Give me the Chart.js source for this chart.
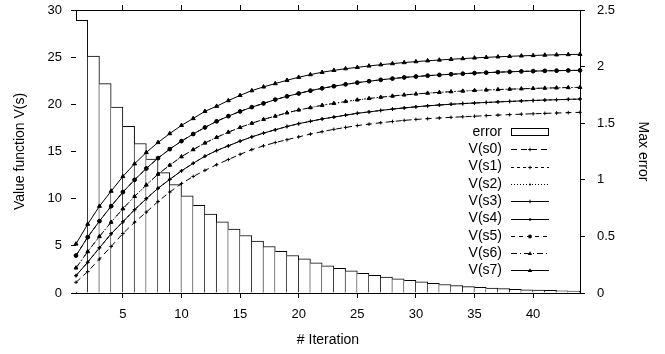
<!DOCTYPE html>
<html lang="en">
<head>
<meta charset="UTF-8">
<title>Value iteration</title>
<script src="https://cdn.jsdelivr.net/npm/chart.js"></script>
<style>
    html, body { margin: 0; padding: 0; background: #fff; }
    .caixa { position: relative; width: 665px; height: 354px; }
</style>
</head>
<body>
<div class="caixa"><canvas id="grafico"></canvas></div>
<script>
    // iterations 1..44 (lines), bars cover [k, k+1] for k = 1..43
    const iteracoes = [1, 2, 3, 4, 5, 6, 7, 8, 9, 10, 11, 12, 13, 14, 15, 16, 17, 18, 19, 20, 21, 22,
        23, 24, 25, 26, 27, 28, 29, 30, 31, 32, 33, 34, 35, 36, 37, 38, 39, 40, 41, 42, 43, 44];

    const erroMax = [2.408, 2.092, 1.850, 1.642, 1.472, 1.321, 1.183, 1.064, 0.958, 0.858,
        0.774, 0.697, 0.629, 0.564, 0.508, 0.458, 0.411, 0.369, 0.331, 0.302,
        0.266, 0.239, 0.218, 0.195, 0.174, 0.156, 0.140, 0.125, 0.112, 0.098,
        0.086, 0.075, 0.065, 0.057, 0.050, 0.043, 0.038, 0.033, 0.029, 0.026,
        0.023, 0.020, 0.018];

    // several states lie on top of each other in the plot (s1/s3, s2/s6, s4/s5)
    const vS0 = [1.13, 2.27, 3.6, 4.93, 6.3, 7.5, 8.57, 9.7, 10.7, 11.6,
        12.35, 13.0, 13.6, 14.15, 14.7, 15.2, 15.6, 15.95, 16.25, 16.55,
        16.85, 17.1, 17.35, 17.55, 17.75, 17.9, 18.05, 18.18, 18.3, 18.4,
        18.48, 18.55, 18.62, 18.68, 18.74, 18.8, 18.86, 18.91, 18.96, 19.0,
        19.04, 19.08, 19.12, 19.15];
    const vS1 = [1.84, 3.26, 4.79, 6.28, 7.55, 8.83, 10.0, 11.1, 12.05, 12.95,
        13.75, 14.5, 15.1, 15.6, 16.1, 16.55, 16.95, 17.3, 17.65, 17.95,
        18.2, 18.45, 18.65, 18.85, 19.05, 19.2, 19.35, 19.5, 19.62, 19.74,
        19.84, 19.93, 20.01, 20.08, 20.14, 20.2, 20.26, 20.31, 20.36, 20.41,
        20.45, 20.49, 20.53, 20.56];
    const vS2 = [2.66, 4.39, 5.99, 7.51, 8.93, 10.24, 11.45, 12.6, 13.55, 14.45,
        15.2, 15.9, 16.5, 17.05, 17.55, 18.0, 18.4, 18.75, 19.1, 19.4,
        19.65, 19.9, 20.1, 20.3, 20.47, 20.62, 20.76, 20.88, 21.0, 21.1,
        21.19, 21.27, 21.34, 21.41, 21.47, 21.52, 21.57, 21.61, 21.65, 21.69,
        21.72, 21.75, 21.78, 21.8];
    const vS3 = [1.84, 3.26, 4.79, 6.28, 7.55, 8.83, 10.0, 11.1, 12.05, 12.95,
        13.75, 14.5, 15.1, 15.6, 16.1, 16.55, 16.95, 17.3, 17.65, 17.95,
        18.2, 18.45, 18.65, 18.85, 19.05, 19.2, 19.35, 19.5, 19.62, 19.74,
        19.84, 19.93, 20.01, 20.08, 20.14, 20.2, 20.26, 20.31, 20.36, 20.41,
        20.45, 20.49, 20.53, 20.56];
    const vS4 = [3.97, 5.92, 7.62, 9.2, 10.7, 12.0, 13.2, 14.3, 15.25, 16.1,
        16.85, 17.55, 18.2, 18.75, 19.25, 19.7, 20.1, 20.5, 20.85, 21.15,
        21.45, 21.7, 21.92, 22.12, 22.3, 22.45, 22.6, 22.73, 22.85, 22.95,
        23.04, 23.12, 23.19, 23.25, 23.31, 23.36, 23.41, 23.45, 23.49, 23.52,
        23.55, 23.57, 23.59, 23.6];
    const vS5 = [3.97, 5.92, 7.62, 9.2, 10.7, 12.0, 13.2, 14.3, 15.25, 16.1,
        16.85, 17.55, 18.2, 18.75, 19.25, 19.7, 20.1, 20.5, 20.85, 21.15,
        21.45, 21.7, 21.92, 22.12, 22.3, 22.45, 22.6, 22.73, 22.85, 22.95,
        23.04, 23.12, 23.19, 23.25, 23.31, 23.36, 23.41, 23.45, 23.49, 23.52,
        23.55, 23.57, 23.59, 23.6];
    const vS6 = [2.66, 4.39, 5.99, 7.51, 8.93, 10.24, 11.45, 12.6, 13.55, 14.45,
        15.2, 15.9, 16.5, 17.05, 17.55, 18.0, 18.4, 18.75, 19.1, 19.4,
        19.65, 19.9, 20.1, 20.3, 20.47, 20.62, 20.76, 20.88, 21.0, 21.1,
        21.19, 21.27, 21.34, 21.41, 21.47, 21.52, 21.57, 21.61, 21.65, 21.69,
        21.72, 21.75, 21.78, 21.8];
    const vS7 = [5.2, 7.3, 9.2, 10.8, 12.35, 13.7, 14.9, 15.96, 16.9, 17.77,
        18.5, 19.26, 19.8, 20.4, 20.95, 21.45, 21.85, 22.2, 22.55, 22.87,
        23.15, 23.4, 23.6, 23.78, 23.92, 24.07, 24.2, 24.32, 24.43, 24.53,
        24.62, 24.7, 24.78, 24.85, 24.92, 24.98, 25.04, 25.09, 25.14, 25.18,
        25.22, 25.25, 25.28, 25.3];

    const xTicks = [5, 10, 15, 20, 25, 30, 35, 40];
    const yTicks = [0, 5, 10, 15, 20, 25, 30];
    const y2Ticks = [0, 0.5, 1, 1.5, 2, 2.5];

    const fonte = '"Liberation Sans", Arial, Helvetica, sans-serif';
    Chart.defaults.font.family = fonte;
    Chart.defaults.color = '#000';

    function pontos(valores) {
        return iteracoes.map((it, i) => ({ x: it, y: valores[i] }));
    }

    // one line per state: [label, values, dash, marker, radius]
    const estilos = [
        ['V(s0)', vS0, [6, 4], 'cross', 1.8],
        ['V(s1)', vS1, [3, 3], 'cross', 1.8],
        ['V(s2)', vS2, [1, 2], 'circle', 1],
        ['V(s3)', vS3, [], 'cross', 1.8],
        ['V(s4)', vS4, [], 'circle', 1.3],
        ['V(s5)', vS5, [4, 4], 'circle', 1.9],
        ['V(s6)', vS6, [6, 3, 1, 3], 'triangle', 2.2],
        ['V(s7)', vS7, [], 'triangle', 2.3]
    ];

    const conjuntos = [{
        type: 'bar',
        label: 'error',
        data: iteracoes.slice(0, erroMax.length).map((it, i) => ({ x: it + 0.5, y: erroMax[i] })),
        yAxisID: 'y2',
        backgroundColor: '#fff',
        borderColor: '#000',
        borderWidth: { top: 1, right: 1, left: 0, bottom: 0 },
        borderSkipped: false,
        barPercentage: 1,
        categoryPercentage: 1,
        order: 1
    }];
    estilos.forEach(e => {
        conjuntos.push({
            type: 'line',
            label: e[0],
            data: pontos(e[1]),
            yAxisID: 'y',
            borderColor: '#000',
            backgroundColor: '#000',
            borderWidth: 1,
            borderDash: e[2],
            pointStyle: e[3],
            pointRadius: e[4],
            pointBorderWidth: 1,
            pointBackgroundColor: '#000',
            pointBorderColor: '#000',
            tension: 0,
            fill: false,
            clip: 4,
            order: 0
        });
    });

    function marcador(ctx, estilo, r, x, y) {
        ctx.save();
        ctx.setLineDash([]);
        ctx.beginPath();
        if (estilo === 'cross') {
            ctx.moveTo(x - r, y); ctx.lineTo(x + r, y);
            ctx.moveTo(x, y - r); ctx.lineTo(x, y + r);
            ctx.stroke();
        } else if (estilo === 'circle') {
            ctx.arc(x, y, r, 0, Math.PI * 2);
            ctx.fill();
        } else if (estilo === 'triangle') {
            ctx.moveTo(x, y - r);
            ctx.lineTo(x + r, y + r * 0.7);
            ctx.lineTo(x - r, y + r * 0.7);
            ctx.closePath();
            ctx.fill();
        }
        ctx.restore();
    }

    // legend drawn inside the plot, text on the left of the sample (gnuplot style)
    const legendaInterna = {
        id: 'legendaInterna',
        afterDraw(chart) {
            const ctx = chart.ctx;
            const area = chart.chartArea;
            const textoX = area.right - 78;
            const a0 = area.right - 69;
            const a1 = area.right - 31;
            let y = area.top + 122;
            ctx.save();
            ctx.font = '14px ' + fonte;
            ctx.textAlign = 'right';
            ctx.textBaseline = 'middle';
            ctx.fillStyle = '#000';
            ctx.strokeStyle = '#000';
            ctx.lineWidth = 1;
            chart.data.datasets.forEach(ds => {
                ctx.fillText(ds.label, textoX, y);
                if (ds.type === 'bar') {
                    ctx.fillStyle = '#fff';
                    ctx.fillRect(a0, y - 4, a1 - a0, 8);
                    ctx.strokeRect(a0 + 0.5, y - 3.5, a1 - a0 - 1, 7);
                    ctx.fillStyle = '#000';
                } else {
                    ctx.setLineDash(ds.borderDash);
                    ctx.beginPath();
                    ctx.moveTo(a0, Math.round(y) + 0.5);
                    ctx.lineTo(a1, Math.round(y) + 0.5);
                    ctx.stroke();
                    ctx.setLineDash([]);
                    marcador(ctx, ds.pointStyle, ds.pointRadius, (a0 + a1) / 2, Math.round(y) + 0.5);
                }
                y += 17.3;
            });
            ctx.restore();
        }
    };

    // fixed box sizes so the plot area sits where the reference has it
    function tamanho(prop, valor) {
        return s => {
            s[prop] = valor;
            s.paddingTop = 0;
            s.paddingBottom = 0;
            s.paddingLeft = 0;
            s.paddingRight = 0;
        };
    }

    const eixoComum = {
        offset: false,
        grid: { drawOnChartArea: false, color: '#000', tickLength: 5, offset: false },
        border: { display: true, color: '#000', width: 1 }
    };

    new Chart(document.getElementById('grafico'), {
        data: { datasets: conjuntos },
        options: {
            responsive: true,
            maintainAspectRatio: false,
            animation: false,
            events: [],
            layout: { padding: 0 },
            plugins: {
                legend: { display: false },
                tooltip: { enabled: false }
            },
            scales: {
                x: {
                    ...eixoComum,
                    type: 'linear',
                    position: 'bottom',
                    min: 1,
                    max: 44,
                    afterBuildTicks: s => { s.ticks = xTicks.map(v => ({ value: v })); },
                    afterFit: tamanho('height', 61),
                    ticks: { padding: 9, maxRotation: 0, font: { size: 13 } },
                    title: { display: true, text: '# Iteration', font: { size: 14 }, padding: { bottom: 5 } }
                },
                xTopo: {
                    ...eixoComum,
                    type: 'linear',
                    position: 'top',
                    min: 1,
                    max: 44,
                    afterBuildTicks: s => { s.ticks = xTicks.map(v => ({ value: v })); },
                    afterFit: tamanho('height', 10),
                    ticks: { display: false }
                },
                y: {
                    ...eixoComum,
                    type: 'linear',
                    position: 'left',
                    min: 0,
                    max: 30,
                    afterBuildTicks: s => { s.ticks = yTicks.map(v => ({ value: v })); },
                    afterFit: tamanho('width', 76),
                    ticks: { padding: 9, font: { size: 13 }, callback: v => String(v) },
                    title: { display: true, text: 'Value function V(s)', font: { size: 14 }, padding: { top: 12 } }
                },
                y2: {
                    ...eixoComum,
                    type: 'linear',
                    position: 'right',
                    min: 0,
                    max: 2.5,
                    afterBuildTicks: s => { s.ticks = y2Ticks.map(v => ({ value: v })); },
                    afterFit: tamanho('width', 85),
                    ticks: { padding: 12, font: { size: 13 }, callback: v => String(v) },
                    title: { display: true, text: 'Max error', font: { size: 14 }, padding: { top: 14 } }
                }
            }
        },
        plugins: [legendaInterna]
    });
</script>
</body>
</html>
